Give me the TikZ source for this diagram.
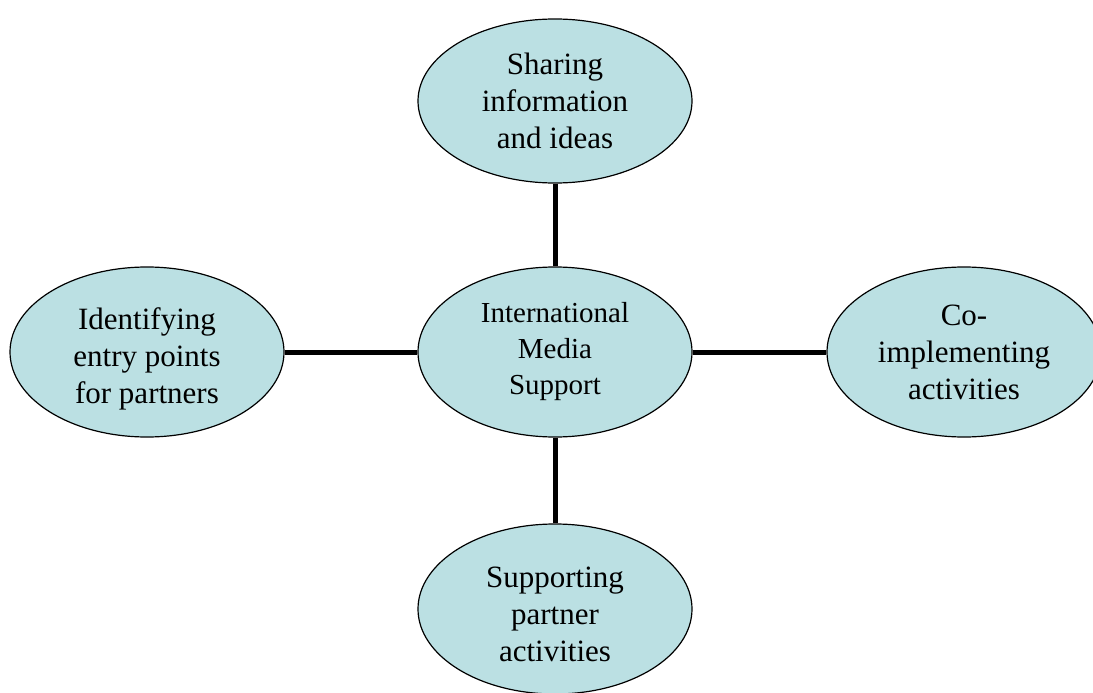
\documentclass[tikz,border=0pt]{standalone}
\usepackage{fontspec}
\setmainfont{Liberation Serif}
\usetikzlibrary{shapes.geometric}
\definecolor{bubble}{HTML}{BBE0E3}
\tikzset{
  bubble/.style={ellipse, draw=black, line width=1.2pt, fill=bubble, minimum width=274pt, minimum height=170pt, inner sep=0pt, align=center, font=\fontsize{31}{37}\selectfont},
  centerbubble/.style={bubble, font=\fontsize{29}{36}\selectfont},
  bubbletext/.style={align=center, font=\fontsize{31}{37}\selectfont, inner sep=0pt},
  link/.style={line width=5pt}
}
\begin{document}
\begin{tikzpicture}[x=1pt,y=-1pt]
\useasboundingbox (0,0) rectangle (1093,693);
\node[centerbubble] (c) at (555,352) {International\\Media\\Support};
\node[bubble, minimum height=164pt] (t) at (555,101) {Sharing\\information\\and ideas};
\node[bubble] (l) at (147,352) {};
\node[bubbletext] (ltext) at (147,359) {Identifying\\entry points\\for partners};
\node[bubble] (r) at (964,352) {Co-\\implementing\\activities};
\node[bubble] (b) at (555,609) {};
\node[bubbletext] (btext) at (555,614) {Supporting\\partner\\activities};
\draw[link] (t.south) -- (c.north);
\draw[link] (c.south) -- (b.north);
\draw[link] (l.east) -- (c.west);
\draw[link] (c.east) -- (r.west);
\end{tikzpicture}
\end{document}
